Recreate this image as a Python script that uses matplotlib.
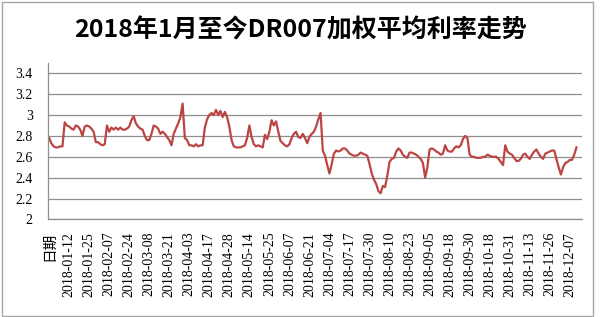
import numpy as np
import matplotlib
matplotlib.use("Agg")
import matplotlib.pyplot as plt
from matplotlib.patches import Rectangle

plt.rcParams["font.family"] = ["Liberation Serif", "DejaVu Serif"]

# DR007 加权平均利率 (%), 按交易日读数
dr007 = [
    2.78, 2.73, 2.70, 2.69, 2.69, 2.70, 2.70, 2.93, 2.90, 2.89,
    2.87, 2.86, 2.90, 2.89, 2.86, 2.80, 2.89, 2.90, 2.89, 2.87,
    2.84, 2.74, 2.74, 2.72, 2.71, 2.72, 2.90, 2.84, 2.88, 2.86,
    2.88, 2.86, 2.88, 2.86, 2.86, 2.87, 2.89, 2.95, 2.99, 2.92,
    2.89, 2.87, 2.86, 2.80, 2.76, 2.76, 2.82, 2.90, 2.89, 2.87,
    2.82, 2.84, 2.82, 2.79, 2.76, 2.71, 2.82, 2.87, 2.92, 2.98,
    3.11, 2.78, 2.76, 2.71, 2.71, 2.70, 2.72, 2.70, 2.71, 2.71,
    2.88, 2.96, 3.00, 3.02, 3.00, 3.05, 3.00, 3.04, 2.98, 3.03,
    2.98, 2.89, 2.76, 2.70, 2.69, 2.69, 2.69, 2.70, 2.71, 2.78,
    2.90, 2.79, 2.72, 2.70, 2.71, 2.70, 2.69, 2.81, 2.77, 2.84,
    2.95, 2.90, 2.94, 2.84, 2.75, 2.73, 2.71, 2.70, 2.72, 2.78,
    2.82, 2.84, 2.79, 2.78, 2.82, 2.78, 2.73, 2.79, 2.82, 2.84,
    2.89, 2.96, 3.02, 2.66, 2.61, 2.52, 2.44, 2.53, 2.63, 2.66,
    2.65, 2.66, 2.68, 2.68, 2.66, 2.63, 2.62, 2.61, 2.61, 2.62,
    2.64, 2.63, 2.62, 2.61, 2.53, 2.44, 2.38, 2.34, 2.27, 2.25,
    2.32, 2.31, 2.42, 2.55, 2.58, 2.59, 2.65, 2.68, 2.66, 2.62,
    2.60, 2.59, 2.64, 2.64, 2.63, 2.62, 2.60, 2.58, 2.54, 2.40,
    2.50, 2.67, 2.68, 2.67, 2.65, 2.64, 2.62, 2.63, 2.71, 2.66,
    2.65, 2.65, 2.68, 2.70, 2.69, 2.71, 2.77, 2.80, 2.78, 2.62,
    2.60, 2.60, 2.59, 2.59, 2.59, 2.60, 2.60, 2.62, 2.61, 2.60,
    2.60, 2.60, 2.58, 2.55, 2.52, 2.71, 2.65, 2.63, 2.62, 2.59,
    2.56, 2.56, 2.58, 2.62, 2.63, 2.60, 2.58, 2.62, 2.65, 2.67,
    2.63, 2.60, 2.58, 2.63, 2.64, 2.65, 2.66, 2.66, 2.58, 2.50,
    2.43, 2.50, 2.54, 2.55, 2.57, 2.57, 2.62, 2.69,
]

# 横轴标签 (每 9 个交易日一个)
x_labels = [
    "日期", "2018-01-12", "2018-01-25", "2018-02-07", "2018-02-24",
    "2018-03-08", "2018-03-21", "2018-04-03", "2018-04-17", "2018-04-28",
    "2018-05-14", "2018-05-25", "2018-06-07", "2018-06-21", "2018-07-04",
    "2018-07-17", "2018-07-30", "2018-08-10", "2018-08-23", "2018-09-05",
    "2018-09-18", "2018-09-30", "2018-10-18", "2018-10-31", "2018-11-13",
    "2018-11-26", "2018-12-07",
]
label_step = 9
y_ticks = [2.0, 2.2, 2.4, 2.6, 2.8, 3.0, 3.2, 3.4]
y_tick_labels = ["2", "2.2", "2.4", "2.6", "2.8", "3", "3.2", "3.4"]

title = "2018年1月至今DR007加权平均利率走势"

fig = plt.figure(figsize=(6, 3.17), dpi=100)
ax = fig.add_axes([0.08, 0.308, 0.89, 0.4936])

x = np.arange(len(dr007))
ax.plot(x, dr007, color="#bb4542", lw=1.6, solid_joinstyle="round")

ax.set_xlim(-0.5, 239.5)
ax.set_ylim(2.0, 3.5)

ax.set_yticks(y_ticks)
ax.set_yticklabels(y_tick_labels, fontsize=10)
ax.yaxis.grid(True, color="#8f8f8f", lw=0.9)
ax.set_axisbelow(True)

tick_pos = np.arange(len(x_labels)) * label_step
ax.set_xticks(tick_pos)
ax.set_xticklabels(x_labels, rotation=90, fontsize=10, va="top", ha="center")
ax.get_xticklabels()[0].set_fontfamily(["Noto Sans CJK SC", "DejaVu Sans"])
ax.get_xticklabels()[0].set_fontsize(10.5)

ax.tick_params(axis="both", length=0)
ax.tick_params(axis="y", pad=11)
ax.tick_params(axis="x", pad=9)

for side in ["top", "right"]:
    ax.spines[side].set_visible(False)
ax.spines["left"].set_color("#8f8f8f")
ax.spines["bottom"].set_color("#8f8f8f")
ax.spines["left"].set_linewidth(0.9)
ax.spines["bottom"].set_linewidth(0.9)

fig.text(0.5, 1 - 30 / 317, title, ha="center", va="center", fontsize=18,
         fontweight="bold", family=["Noto Sans CJK SC", "DejaVu Sans"])

# 图表外框
fig.patches.append(Rectangle((0.003, 0.004), 0.985, 0.99, transform=fig.transFigure,
                             fill=False, ec="#a6a6a6", lw=1.0))

fig.savefig("out.png", dpi=100)
